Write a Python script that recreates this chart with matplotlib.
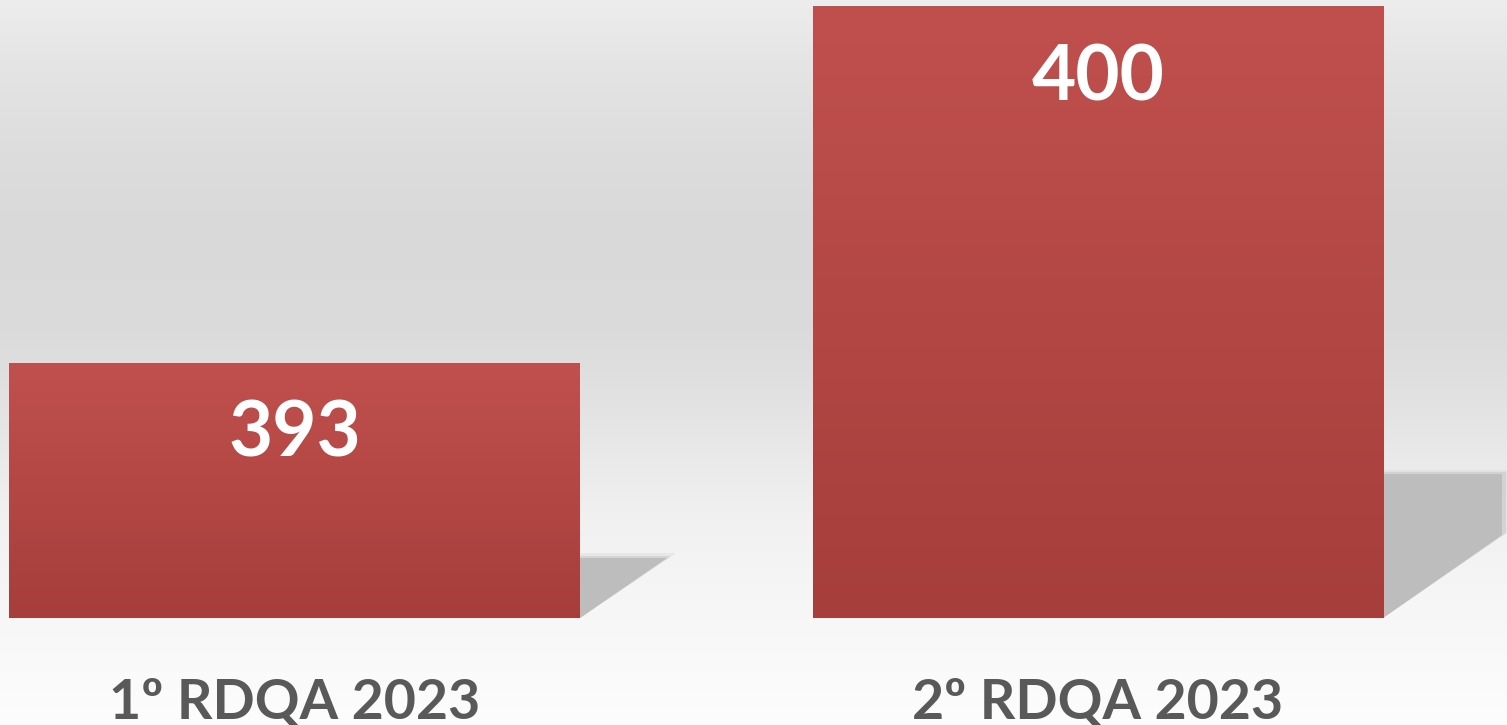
import numpy as np
import matplotlib
matplotlib.use("Agg")
import matplotlib.pyplot as plt
from matplotlib.patches import Polygon
from matplotlib.colors import LinearSegmentedColormap

categories = ["1º RDQA 2023", "2º RDQA 2023"]
values = [393, 400]
ymin = 388

fig = plt.figure(figsize=(15.07, 7.25), dpi=100)

# background gradient (light top, darker middle, white bottom)
bg = fig.add_axes([0, 0, 1, 1], zorder=0)
stops_y = [0, 60, 150, 230, 330, 400, 460, 520, 600, 725]
stops_g = [237, 229, 221, 217, 219, 226, 234, 241, 246, 253]
col = np.interp(np.arange(725), stops_y, stops_g) / 255.0
rgb = np.repeat(np.repeat(col[:, None, None], 3, axis=2), 4, axis=1)
bg.imshow(rgb, aspect="auto", extent=[0, 1, 0, 1], interpolation="nearest")
bg.axis("off")

ax = fig.add_axes([0, 107 / 725, 1, 618 / 725], zorder=1)
ax.patch.set_alpha(0)
x = np.arange(len(values))
width = 0.71

bar_cmap = LinearSegmentedColormap.from_list("bar", ["#A63E3B", "#C0504D"])
bars = ax.bar(x, values, width=width, bottom=0, color="none", zorder=3)

for b, v in zip(bars, values):
    x0 = b.get_x()
    x1 = x0 + b.get_width()
    # shadow
    h = v - ymin
    sh = 0.235 * h
    dx = 0.08 + 0.0056 * h
    yd = ymin + min(11.05 * dx, sh)
    pts = [(x1, ymin), (x1, ymin + sh), (x1 + dx, ymin + sh), (x1 + dx, yd)]
    for k, a in [(0.012, 0.25), (0.006, 0.5)]:
        big = [(x1, ymin), (x1, ymin + sh + k * 8), (x1 + dx + k, ymin + sh + k * 8),
               (x1 + dx + k, yd + k * 8)]
        ax.add_patch(Polygon(big, closed=True, facecolor="#c4c4c4", edgecolor="none",
                             alpha=a, zorder=1))
    ax.add_patch(Polygon(pts, closed=True, facecolor="#bdbdbd", edgecolor="none", zorder=2))
    # bar gradient
    grad = np.linspace(0, 1, 256)[:, None]
    ax.imshow(grad, cmap=bar_cmap, origin="lower", aspect="auto",
              extent=[x0, x1, ymin, v], zorder=3, interpolation="bilinear")
    ax.text(b.get_x() + b.get_width() / 2, v - 1.4, str(v), ha="center", va="center",
            color="white", fontsize=55, fontweight="bold", family=["Lato", "DejaVu Sans"],
            zorder=5)

ax.set_xlim(-0.3665, 1.509)
ax.set_ylim(ymin, 400.137)
ax.axis("off")

for xi, c in zip(x, categories):
    ax.text(xi, ymin - 1.65, c, ha="center", va="center", color="#595959",
            fontsize=40, fontweight="bold", family=["Lato", "DejaVu Sans"], clip_on=False)

fig.savefig("out.png", dpi=100)
